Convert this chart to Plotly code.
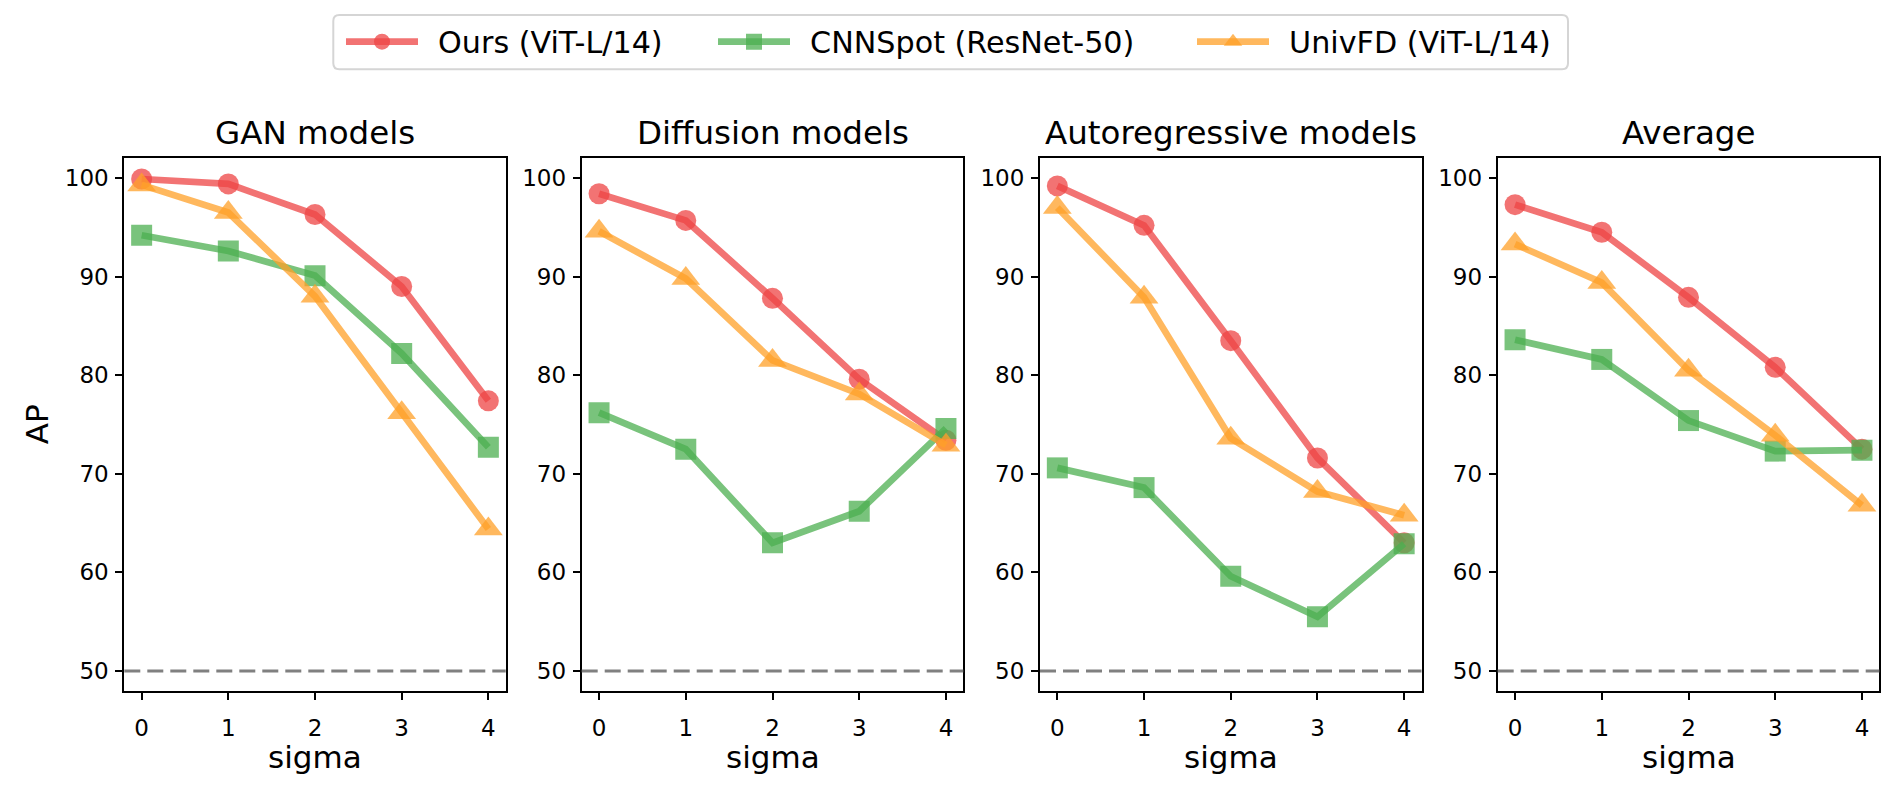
import plotly.graph_objects as go

# ---------------- data ----------------
sigma = [0, 1, 2, 3, 4]
panel_titles = ["GAN models", "Diffusion models", "Autoregressive models", "Average"]
series_names = ["Ours (ViT-L/14)", "CNNSpot (ResNet-50)", "UnivFD (ViT-L/14)"]

gan_ours = [99.9, 99.4, 96.3, 89.0, 77.4]
gan_cnn = [94.2, 92.6, 90.1, 82.2, 72.7]
gan_univ = [99.3, 96.5, 88.0, 76.2, 64.4]

diff_ours = [98.4, 95.7, 87.8, 79.6, 73.4]
diff_cnn = [76.2, 72.5, 63.0, 66.2, 74.6]
diff_univ = [94.6, 89.8, 81.5, 78.1, 72.9]

ar_ours = [99.2, 95.2, 83.5, 71.6, 63.0]
ar_cnn = [70.6, 68.6, 59.6, 55.5, 62.9]
ar_univ = [97.0, 87.9, 73.6, 68.2, 65.8]

avg_ours = [97.3, 94.5, 87.9, 80.8, 72.5]
avg_cnn = [83.6, 81.6, 75.4, 72.3, 72.4]
avg_univ = [93.3, 89.4, 80.5, 73.9, 66.8]

chance_level = 50
y_ticks = [50, 60, 70, 80, 90, 100]
x_ticks = [0, 1, 2, 3, 4]

# ---------------- style ----------------
W, H = 1903, 793
FONT = "DejaVu Sans"
line_colors = ["rgba(238,68,68,0.75)", "rgba(76,175,80,0.75)", "rgba(255,160,40,0.75)"]
symbols = ["circle", "square", "triangle-up"]
marker_sizes = [21, 21, 25]

panels = [
    (gan_ours, gan_cnn, gan_univ),
    (diff_ours, diff_cnn, diff_univ),
    (ar_ours, ar_cnn, ar_univ),
    (avg_ours, avg_cnn, avg_univ),
]

# panel frames in pixels (left, right) and vertical extent
x_frames = [(124.3, 505.7), (581.7, 963.3), (1040.0, 1421.5), (1497.7, 1879.3)]
y_top_px, y_bot_px = 158.3, 690.7
ydom = [1 - y_bot_px / H, 1 - y_top_px / H]

fig = go.Figure()
legend_ids = ["legend", "legend2", "legend3"]
LEG_PAD = "\u2002"  # gap between legend symbol and its text

for p, series in enumerate(panels):
    ax = "" if p == 0 else str(p + 1)
    for s, vals in enumerate(series):
        fig.add_trace(go.Scatter(
            x=sigma, y=vals, mode="lines+markers",
            name=LEG_PAD + series_names[s],
            line=dict(color=line_colors[s], width=6.7),
            marker=dict(symbol=symbols[s], size=marker_sizes[s], color=line_colors[s], line=dict(width=0)),
            xaxis="x" + ax, yaxis="y" + ax,
            showlegend=(p == 0), legend=legend_ids[s],
        ))

layout = dict(
    width=W, height=H, autosize=False,
    margin=dict(l=0, r=0, t=0, b=0),
    paper_bgcolor="white", plot_bgcolor="white",
    font=dict(family=FONT, color="black", size=23),
    shapes=[], annotations=[],
)

for p in range(4):
    ax = "" if p == 0 else str(p + 1)
    x0, x1 = x_frames[p]
    common = dict(showline=True, linecolor="black", linewidth=2, mirror=True,
                  ticks="outside", ticklen=7, tickwidth=2, tickcolor="black",
                  showgrid=False, zeroline=False,
                  tickfont=dict(family=FONT, size=23, color="black"))
    layout["xaxis" + ax] = dict(domain=[x0 / W, x1 / W], range=[-0.2, 4.2],
                                tickvals=x_ticks, anchor="y" + ax, ticklabelstandoff=9, **common)
    layout["yaxis" + ax] = dict(domain=ydom, range=[48, 102],
                                tickvals=y_ticks, anchor="x" + ax, ticklabelstandoff=2, **common)
    # chance line
    layout["shapes"].append(dict(type="line", xref="x" + ax + " domain", yref="y" + ax,
                                 x0=0, x1=1, y0=chance_level, y1=chance_level,
                                 line=dict(color="rgba(128,128,128,1)", width=3, dash="16px,7px"),
                                 layer="above"))
    # panel title
    layout["annotations"].append(dict(text=panel_titles[p], xref="paper", yref="paper",
                                      x=(x0 + x1) / 2 / W, y=1 - 133.5 / H,
                                      xanchor="center", yanchor="middle", showarrow=False,
                                      font=dict(family=FONT, size=32.5, color="black")))
    # x label
    layout["annotations"].append(dict(text="sigma", xref="paper", yref="paper",
                                      x=(x0 + x1) / 2 / W, y=1 - 757 / H,
                                      xanchor="center", yanchor="middle", showarrow=False,
                                      font=dict(family=FONT, size=31, color="black")))

# y label
layout["annotations"].append(dict(text="AP", xref="paper", yref="paper",
                                  x=36.7 / W, y=1 - 424.5 / H, textangle=-90,
                                  xanchor="center", yanchor="middle", showarrow=False,
                                  font=dict(family=FONT, size=31, color="black")))

# legend frame (rounded rectangle)
bx0, bx1, by0, by1, r = 333.3, 1568.0, 15.0, 69.3, 6.0
def px(x): return x / W
def py(y): return 1 - y / H
path = (f"M {px(bx0 + r)},{py(by0)} L {px(bx1 - r)},{py(by0)} "
        f"Q {px(bx1)},{py(by0)} {px(bx1)},{py(by0 + r)} L {px(bx1)},{py(by1 - r)} "
        f"Q {px(bx1)},{py(by1)} {px(bx1 - r)},{py(by1)} L {px(bx0 + r)},{py(by1)} "
        f"Q {px(bx0)},{py(by1)} {px(bx0)},{py(by1 - r)} L {px(bx0)},{py(by0 + r)} "
        f"Q {px(bx0)},{py(by0)} {px(bx0 + r)},{py(by0)} Z")
layout["shapes"].append(dict(type="path", path=path, xref="paper", yref="paper",
                             line=dict(color="#D5D5D5", width=2), fillcolor="white", layer="below"))

legend_x = [341.0, 713.0, 1192.0]
for i, lid in enumerate(legend_ids):
    layout[lid] = dict(x=legend_x[i] / W, y=1 - 42 / H, xanchor="left", yanchor="middle",
                       orientation="h", bgcolor="rgba(0,0,0,0)", borderwidth=0,
                       itemwidth=72, font=dict(family=FONT, size=30.2, color="black"))

fig.update_layout(**layout)

fig.write_html("out.html", config={"displayModeBar": False},
               post_script="document.body.style.margin='0';document.body.style.overflow='hidden';")
